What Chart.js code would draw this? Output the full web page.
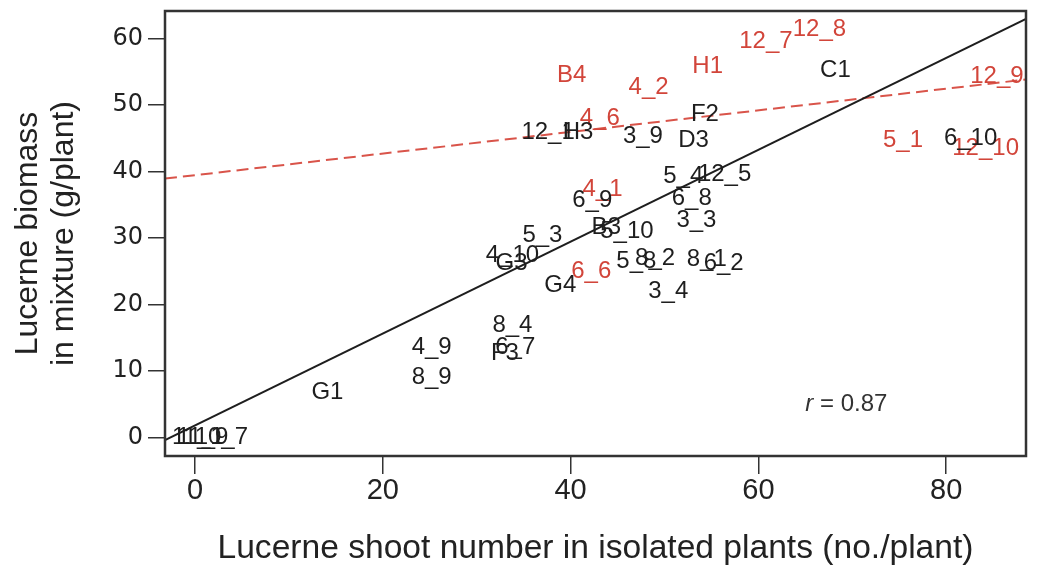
<!DOCTYPE html>
<html><head><meta charset="utf-8">
<script src="https://cdn.jsdelivr.net/npm/chart.js@4.4.1/dist/chart.umd.min.js"></script>
<style>html,body{margin:0;padding:0;background:#fff;overflow:hidden}#wrap{width:1039px;height:571px}</style>
</head><body><div id="wrap"><canvas id="c" width="1039" height="571"></canvas></div>
<script>
// ---- data ----
const redLabels = ["12_8","12_7","H1","B4","4_2","4_6","12_9","5_1","12_10","4_1","6_6"];
const redX      = [66.5, 60.8, 54.6, 40.1, 48.3, 43.1, 85.4, 75.4, 84.2, 43.4, 42.2];
const redY      = [61.4, 59.6, 55.7, 54.4, 52.6, 48.0, 54.2, 44.7, 43.5, 37.3, 25.0];

const blackLabels = ["C1","F2","D3","3_9","12_1","H3","6_10","5_4","12_5","6_8","3_3","6_9","B3","5_10","5_3","4_10","G3","G4","5_8","8_2","8_1","6_2","3_4","8_4","6_7","F3","4_9","8_9","G1","11_1","11_9","10_7"];
const blackX      = [68.2, 54.3, 53.1, 47.7, 37.6, 40.8, 82.6, 52.0, 56.4, 52.9, 53.4, 42.3, 43.8, 46.0, 37.0, 33.8, 33.7, 38.9, 47.0, 49.0, 54.5, 56.3, 50.4, 33.8, 34.1, 33.0, 25.2, 25.2, 14.1, 0.3, 0.8, 2.8];
const blackY      = [55.1, 48.5, 44.7, 45.3, 45.8, 45.8, 44.9, 39.3, 39.6, 36.0, 32.6, 35.6, 31.5, 31.0, 30.3, 27.4, 26.2, 22.8, 26.4, 26.9, 26.8, 26.1, 22.0, 16.9, 13.6, 12.6, 13.6, 9.0, 6.8, 0.0, 0.0, 0.0];

// fitted lines (end points)
const fitX    = [-3.2, 88.5];
const fitY    = [-0.4, 62.9];
const redFitX = [-3.2, 88.5];
const redFitY = [38.9, 53.8];

const xTicks = [0, 20, 40, 60, 80];
const yTicks = [0, 10, 20, 30, 40, 50, 60];
const rText = {r: "r", rest: " = 0.87", x: 65.0, y: 4.9};

const RED = "#d2453a";
const BLACK = "#1e1e1e";

const toPts = (xs, ys) => xs.map((x, i) => ({x: x, y: ys[i]}));

const textLabels = {
  id: "textLabels",
  afterDatasetsDraw(chart) {
    const ctx = chart.ctx;
    ctx.save();
    chart.data.datasets.forEach((ds, i) => {
      if (!ds.textLabels) return;
      const meta = chart.getDatasetMeta(i);
      ctx.font = "24px 'Liberation Sans', Arial, sans-serif";
      ctx.fillStyle = ds.textColor;
      ctx.textAlign = "center";
      ctx.textBaseline = "middle";
      meta.data.forEach((el, j) => ctx.fillText(ds.textLabels[j], el.x, el.y));
    });
    const xs = chart.scales.x, ys = chart.scales.y;
    const px = xs.getPixelForValue(rText.x), py = ys.getPixelForValue(rText.y);
    ctx.fillStyle = "#333";
    ctx.textAlign = "left";
    ctx.textBaseline = "middle";
    ctx.font = "italic 24px 'Liberation Sans', Arial, sans-serif";
    ctx.fillText(rText.r, px, py);
    const w = ctx.measureText(rText.r).width;
    ctx.font = "24px 'Liberation Sans', Arial, sans-serif";
    ctx.fillText(rText.rest, px + w, py);
    ctx.restore();
  },
  afterDraw(chart) {
    const a = chart.chartArea, ctx = chart.ctx;
    ctx.save();
    ctx.strokeStyle = "#333";
    ctx.lineWidth = 2.5;
    ctx.strokeRect(a.left, a.top, a.right - a.left, a.bottom - a.top);
    ctx.restore();
  }
};

new Chart(document.getElementById("c"), {
  type: "scatter",
  data: {
    datasets: [
      {type: "line", data: toPts(fitX, fitY), borderColor: BLACK, borderWidth: 2, pointRadius: 0, fill: false},
      {type: "line", data: toPts(redFitX, redFitY), borderColor: "#d9544a", borderWidth: 2, borderDash: [12, 6], pointRadius: 0, fill: false},
      {data: toPts(redX, redY), pointRadius: 0, textLabels: redLabels, textColor: RED},
      {data: toPts(blackX, blackY), pointRadius: 0, textLabels: blackLabels, textColor: BLACK}
    ]
  },
  options: {
    responsive: false,
    animation: false,
    devicePixelRatio: 1,
    layout: {padding: {top: 11, right: 13, left: 0, bottom: 0}},
    plugins: {legend: {display: false}, tooltip: {enabled: false}},
    scales: {
      x: {
        type: "linear", min: -3.2, max: 88.5,
        afterBuildTicks: s => { s.ticks = xTicks.map(v => ({value: v})); },
        afterFit: s => { s.height = 115; s.paddingLeft = 0; s.paddingRight = 0; },
        border: {display: false},
        grid: {drawOnChartArea: false, drawTicks: true, tickLength: 18, color: "#333", lineWidth: 1.5},
        ticks: {color: "#222", font: {family: "'Liberation Sans', sans-serif", size: 29}, padding: 0, maxRotation: 0, autoSkip: false},
        title: {display: true, text: "Lucerne shoot number in isolated plants (no./plant)", color: "#222",
                font: {family: "'Liberation Sans', Arial, sans-serif", size: 33.6, lineHeight: 1.2}, padding: {top: 0, bottom: 2}}
      },
      y: {
        type: "linear", min: -2.8, max: 64.1,
        afterBuildTicks: s => { s.ticks = yTicks.map(v => ({value: v})); },
        afterFit: s => { s.width = 165; s.paddingTop = 0; s.paddingBottom = 0; },
        border: {display: false},
        grid: {drawOnChartArea: false, drawTicks: true, tickLength: 17, color: "#333", lineWidth: 1.5},
        ticks: {color: "#222", font: {family: "'DejaVu Sans', sans-serif", size: 24}, padding: 5, autoSkip: false},
        title: {display: true, text: ["Lucerne biomass", "in mixture (g/plant)"], color: "#222",
                font: {family: "'Liberation Sans', Arial, sans-serif", size: 32, lineHeight: 1.12}, padding: {top: 10, bottom: 0}}
      }
    }
  },
  plugins: [textLabels]
});
</script>
</body></html>
